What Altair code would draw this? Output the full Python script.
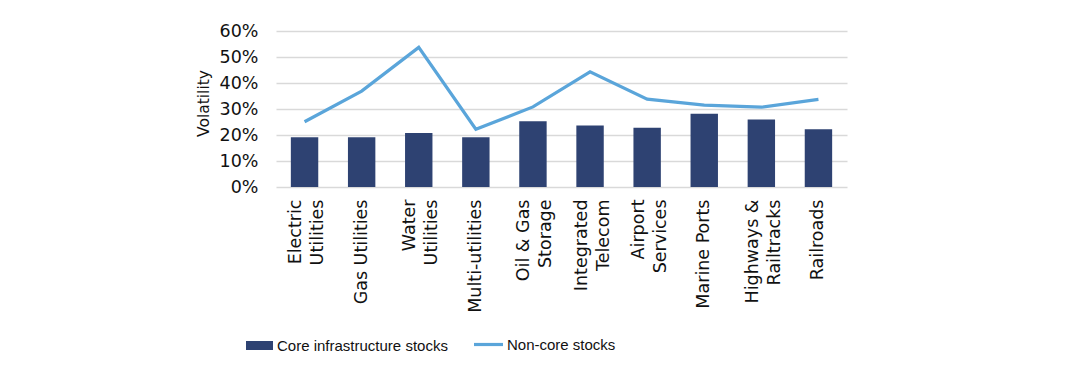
import altair as alt
import pandas as pd

categories = ["Electric\nUtilities", "Gas Utilities", "Water\nUtilities", "Multi-utilities",
              "Oil & Gas\nStorage", "Integrated\nTelecom", "Airport\nServices", "Marine Ports",
              "Highways &\nRailtracks", "Railroads"]
core = [0.191, 0.191, 0.208, 0.191, 0.253, 0.237, 0.228, 0.282, 0.260, 0.222]
noncore = [0.251, 0.369, 0.537, 0.222, 0.308, 0.443, 0.338, 0.315, 0.307, 0.337]
y_ticks = [0, 0.1, 0.2, 0.3, 0.4, 0.5, 0.6]

df = pd.DataFrame({"cat": categories, "core": core, "noncore": noncore})

BAR = "#2E4272"
LINE = "#5AA5DA"
FONT = "DejaVu Sans"
LEGFONT = "Liberation Sans"

x = alt.X("cat:N", sort=categories, title=None,
          scale=alt.Scale(paddingInner=0.52, paddingOuter=0.26),
          axis=alt.Axis(labelAngle=-90, labelExpr="split(datum.label, '\\n')",
                        labelLineHeight=22, labelPadding=12, ticks=False, domain=False,
                        labelOffset={"condition": {"test": "indexof(datum.label, '\\n') >= 0",
                                                   "value": -8.5}, "value": 0},
                        labelFont=FONT, labelFontSize=17.5, labelColor="#111111"))

y_axis = alt.Axis(values=y_ticks, format=".0%", ticks=False, domain=False,
                  labelOverlap=False,
                  labelPadding=18, labelFont=FONT, labelFontSize=17.5,
                  labelColor="#111111", titleFont=FONT, titleFontSize=15.5,
                  titleFontWeight="normal", titleColor="#111111", titlePadding=8,
                  titleY=72,
                  gridColor="#d9d9d9", gridWidth=1.5)
y_scale = alt.Scale(domain=[0, 0.6], nice=False)

bars = alt.Chart(df).mark_bar(color=BAR).encode(
    x=x,
    y=alt.Y("core:Q", title="Volatility", scale=y_scale, axis=y_axis),
    fill=alt.Fill("s:N", scale=alt.Scale(domain=["Core infrastructure stocks"], range=[BAR]),
                  legend=alt.Legend(title=None, orient="none", legendX=-30, legendY=301,
                                    padding=0, labelOffset=4, labelLimit=0,
                                    symbolType="M-1,-0.333H1V0.333H-1Z", symbolSize=729,
                                    symbolStrokeWidth=0, symbolOpacity=1,
                                    labelFont=LEGFONT, labelFontSize=15, labelColor="#111111")),
).transform_calculate(s="'Core infrastructure stocks'")

line = alt.Chart(df).mark_line(strokeWidth=3.2, color=LINE).encode(
    x=x,
    y=alt.Y("noncore:Q", title="Volatility", scale=y_scale, axis=y_axis),
    stroke=alt.Stroke("s:N", scale=alt.Scale(domain=["Non-core stocks"], range=[LINE]),
                      legend=alt.Legend(title=None, orient="none", legendX=196, legendY=297,
                                        padding=0, labelOffset=2, labelLimit=0,
                                        symbolType="stroke",
                                        symbolSize=841, symbolStrokeWidth=3.2,
                                        labelFont=LEGFONT, labelFontSize=15,
                                        labelColor="#111111")),
).transform_calculate(s="'Non-core stocks'")

chart = alt.layer(bars, line).resolve_scale(fill="independent", stroke="independent").properties(
    width=571, height=156,
    background="white",
    autosize=alt.AutoSizeParams(type="none"),
    padding={"left": 268, "top": 23, "right": 233, "bottom": 184},
).configure_view(stroke=None)

chart.save("out.html", embed_options={"renderer": "svg", "actions": False})
